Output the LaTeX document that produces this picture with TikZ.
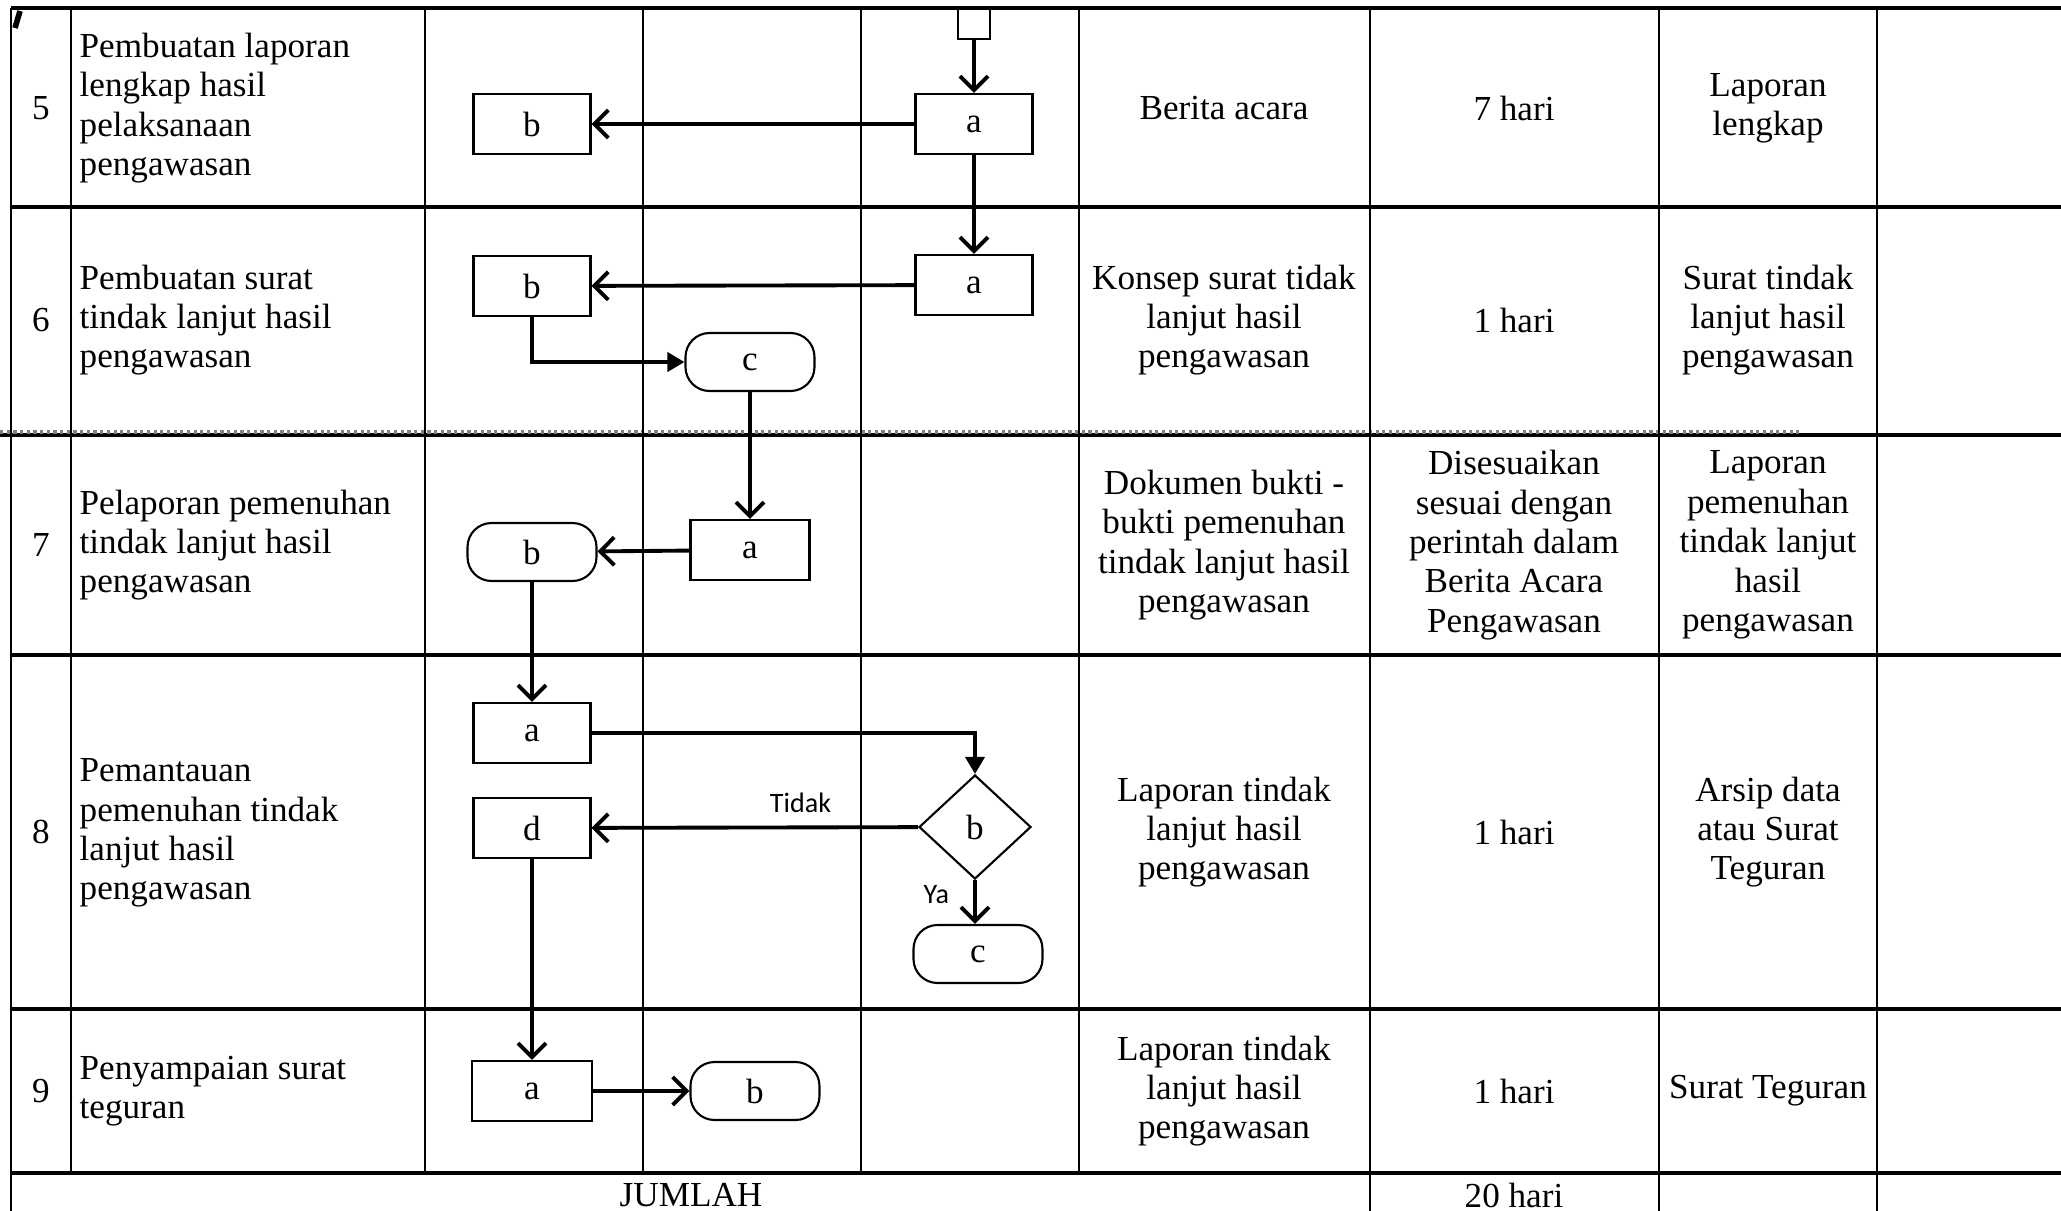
\documentclass[tikz,border=0pt]{standalone}
\usepackage{fontspec}
\setmainfont{Liberation Serif}
\newfontfamily\labelfont{Carlito}
\usetikzlibrary{shapes.geometric,arrows.meta,positioning}

\tikzset{
    proc/.style={draw, line width=0.6pt, minimum width=11.7mm, minimum height=6mm, inner sep=0pt, font=\fontsize{10}{11}\selectfont},
    term/.style={proc, rounded corners=2.4mm, minimum width=12.9mm, minimum height=5.8mm},
    deci/.style={draw, diamond, line width=0.6pt, minimum width=11.2mm, minimum height=10.4mm, inner sep=0pt, font=\fontsize{10}{11}\selectfont},
    cell/.style={align=center, inner sep=0pt, font=\fontsize{10}{11.2}\selectfont},
    actv/.style={align=left, anchor=west, inner sep=0pt, font=\fontsize{10}{11.2}\selectfont},
    flow/.style={line width=1.1pt, -{Straight Barb[length=1.4mm,width=2.8mm]}},
    flowf/.style={line width=1.1pt, -{Triangle[length=1.7mm,width=1.9mm]}},
    hline/.style={line width=0.95pt},
    vline/.style={line width=0.65pt},
    yesno/.style={inner sep=0pt, font=\labelfont\fontsize{8}{9}\selectfont}
}

\begin{document}
\begin{tikzpicture}[x=0.1mm, y=-0.1mm]
        \useasboundingbox (0,0) rectangle (2061,1211) ;

            % table
            \draw[hline] (11,8) -- (2061,8) ;
            \draw[hline] (11,207) -- (2061,207) ;
            \draw[hline] (0,435) -- (2061,435) ;
            \draw[densely dotted, line width=0.9pt, gray] (0,432) -- (1801,432) ;
            \draw[hline] (11,655) -- (2061,655) ;
            \draw[hline] (11,1009) -- (2061,1009) ;
            \draw[hline] (11,1173) -- (2061,1173) ;
            \draw[vline] (11,8) -- (11,1211) ;
            \foreach \x in {71,425,643,861,1079}
                \draw[vline] (\x,8) -- (\x,1173) ;
            \foreach \x in {1370,1659,1877}
                \draw[vline] (\x,8) -- (\x,1211) ;
            \draw[line width=1.6pt] (20,11) -- (15,28) ;

            % numbers and activities
            \node[cell] (n5) at (41,108) {5} ;
            \node[cell] (n6) at (41,320) {6} ;
            \node[cell] (n7) at (41,545) {7} ;
            \node[cell] (n8) at (41,832) {8} ;
            \node[cell] (n9) at (41,1091) {9} ;
            \node[actv] (k5) at (79,108) {Pembuatan laporan\\lengkap hasil\\pelaksanaan\\pengawasan} ;
            \node[actv] (k6) at (79,320) {Pembuatan surat\\tindak lanjut hasil\\pengawasan} ;
            \node[actv] (k7) at (79,545) {Pelaporan pemenuhan\\tindak lanjut hasil\\pengawasan} ;
            \node[actv] (k8) at (79,833) {Pemantauan\\pemenuhan tindak\\lanjut hasil\\pengawasan} ;
            \node[actv] (k9) at (79,1091) {Penyampaian surat\\teguran} ;

            % kelengkapan, waktu, output
            \node[cell] (m5) at (1224,108) {Berita acara} ;
            \node[cell] (m6) at (1224,320) {Konsep surat tidak\\lanjut hasil\\pengawasan} ;
            \node[cell] (m7) at (1224,545) {Dokumen bukti -\\bukti pemenuhan\\tindak lanjut hasil\\pengawasan} ;
            \node[cell] (m8) at (1224,832) {Laporan tindak\\lanjut hasil\\pengawasan} ;
            \node[cell] (m9) at (1224,1091) {Laporan tindak\\lanjut hasil\\pengawasan} ;
            \node[cell] (w5) at (1514,108) {7 hari} ;
            \node[cell] (w6) at (1514,320) {1 hari} ;
            \node[cell] (w7) at (1514,545) {Disesuaikan\\sesuai dengan\\perintah dalam\\Berita Acara\\Pengawasan} ;
            \node[cell] (w8) at (1514,832) {1 hari} ;
            \node[cell] (w9) at (1514,1091) {1 hari} ;
            \node[cell] (o5) at (1768,108) {Laporan\\lengkap} ;
            \node[cell] (o6) at (1768,320) {Surat tindak\\lanjut hasil\\pengawasan} ;
            \node[cell] (o7) at (1768,545) {Laporan\\pemenuhan\\tindak lanjut\\hasil\\pengawasan} ;
            \node[cell] (o8) at (1768,832) {Arsip data\\atau Surat\\Teguran} ;
            \node[cell] (o9) at (1768,1091) {Surat Teguran} ;
            \node[cell] (jml) at (691,1195) {JUMLAH} ;
            \node[cell] (tot) at (1514,1195) {20 hari} ;

            % flow
            \node[draw, line width=0.6pt, minimum width=3.2mm, minimum height=3mm, inner sep=0pt] (prev) at (974,24) {} ;
            \node[proc] (a5) at (974,124) {a} ;
            \node[proc] (b5) at (532,124) {b} ;
            \node[proc] (a6) at (974,285) {a} ;
            \node[proc] (b6) at (532,286) {b} ;
            \node[term] (c6) at (750,362) {c} ;
            \node[proc, minimum width=11.9mm] (a7) at (750,550) {a} ;
            \node[term] (b7) at (532,552) {b} ;
            \node[proc] (a8) at (532,733) {a} ;
            \node[proc] (d8) at (532,828) {d} ;
            \node[deci] (b8) at (975,827) {b} ;
            \node[term] (c8) at (978,954) {c} ;
            \node[proc, minimum width=12mm] (a9) at (532,1091) {a} ;
            \node[term] (b9) at (755,1091) {b} ;

            \draw[flow] (prev) -- (a5) ;
            \draw[flow] (a5) -- (b5) ;
            \draw[flow] (a5) -- (a6) ;
            \draw[flow] (a6) -- (b6) ;
            \draw[flowf] (b6) |- (c6) ;
            \draw[flow] (c6) -- (a7) ;
            \draw[flow] (a7) -- (b7) ;
            \draw[flow] (b7) -- (a8) ;
            \draw[flowf] (a8) -| (b8) ;
            \draw[flow] (b8) -- node[yesno, pos=0.36, above=1.3mm] (tidak) {Tidak} (d8) ;
            \draw[flow] (b8.south) -- node[yesno, pos=0.32, left=2.4mm] (ya) {Ya} (c8.north -| b8.south) ;
            \draw[flow] (d8) -- (a9) ;
            \draw[flow] (a9) -- (b9) ;

\end{tikzpicture}
\end{document}
